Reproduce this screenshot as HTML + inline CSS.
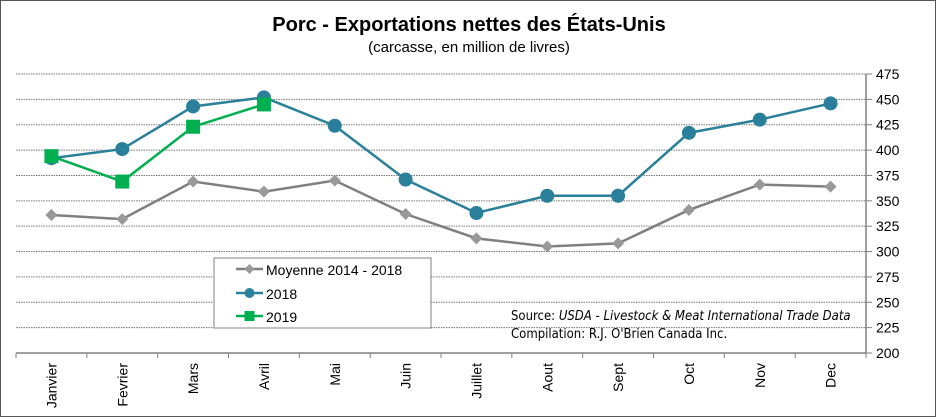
<!DOCTYPE html>
<html><head><meta charset="utf-8"><style>
body{margin:0;background:#fff}
#c{position:relative;width:934px;height:415px;border:1px solid #555;background:#fff;font-family:"Liberation Sans",sans-serif}
</style></head><body>
<div id="c">
<svg id="s" width="934" height="415" style="position:absolute;left:0;top:0">
<text x="468" y="30" text-anchor="middle" font-size="20" font-weight="bold" fill="#000">Porc - Exportations nettes des États-Unis</text>
<text x="468" y="51" text-anchor="middle" font-size="15" fill="#000">(carcasse, en million de livres)</text>
<g id="grid"></g><g id="axes"></g><g id="series"></g>
<text x="510" y="319" font-size="13" fill="#000" font-family="'DejaVu Sans Condensed','Liberation Sans Narrow',sans-serif">Source: <tspan font-style="italic">USDA - Livestock &amp; Meat International Trade Data</tspan></text>
<text x="510" y="337" font-size="13" fill="#000" font-family="'DejaVu Sans Condensed','Liberation Sans Narrow',sans-serif">Compilation: R.J. O'Brien Canada Inc.</text>
<g>
<rect x="213" y="257" width="217" height="70" fill="#fff" stroke="#808080"/>
<line x1="235" y1="268" x2="262" y2="268" stroke="#808080" stroke-width="2.5"/><path d="M248.5 263l5 5-5 5-5-5z" fill="#999"/>
<text x="265" y="274" font-size="14">Moyenne 2014 - 2018</text>
<line x1="235" y1="292" x2="262" y2="292" stroke="#2a7f9a" stroke-width="2.5"/><circle cx="248.5" cy="292" r="5" fill="#2a7f9a"/>
<text x="265" y="298" font-size="14">2018</text>
<line x1="235" y1="315" x2="262" y2="315" stroke="#00b050" stroke-width="2.5"/><rect x="243.5" y="310" width="10" height="10" fill="#00b050"/>
<text x="265" y="321" font-size="14">2019</text>
</g>
</svg>
</div>
<script>
const categories=["Janvier","Fevrier","Mars","Avril","Mai","Juin","Juillet","Aout","Sept","Oct","Nov","Dec"];
const moyenne=[336,332,369,359,370,337,313,305,308,341,366,364];
const y2018=[392,401,443,452,424,371,338,355,355,417,430,446];
const y2019=[394,369,423,445];
const yTicks=[200,225,250,275,300,325,350,375,400,425,450,475];
const L=15,R=865,T=73,B=352,ymin=200,ymax=475;
const NS="http://www.w3.org/2000/svg";
const xs=i=>L+(R-L)/categories.length*(i+0.5);
const ys=v=>B-(v-ymin)/(ymax-ymin)*(B-T);
function mk(tag,at,par){const e=document.createElementNS(NS,tag);for(const k in at)e.setAttribute(k,at[k]);document.getElementById(par).appendChild(e);return e;}
yTicks.forEach(v=>{
 if(v>ymin){const g=mk('line',{x1:L,x2:R,y1:ys(v),y2:ys(v),stroke:'#777','stroke-dasharray':'1.5 1','stroke-width':1},'grid');
 
 }
 mk('line',{x1:R,x2:R+6,y1:ys(v),y2:ys(v),stroke:'#808080'},'axes');
 const t=mk('text',{x:R+10,y:ys(v)+5,'font-size':14,fill:'#000'},'axes');t.textContent=v;
 
 
});
mk('line',{x1:R,x2:R,y1:T,y2:B,stroke:'#808080','stroke-width':1.5},'axes');
mk('line',{x1:L,x2:R,y1:B,y2:B,stroke:'#808080','stroke-width':1.5},'axes');
for(let i=0;i<=categories.length;i++){const x=L+(R-L)/categories.length*i;mk('line',{x1:x,x2:x,y1:B,y2:B+5,stroke:'#808080'},'axes');}
categories.forEach((c,i)=>{const x=xs(i)+5;const t=mk('text',{x:x,y:B+10,'font-size':14,'text-anchor':'end',transform:`rotate(-90 ${x} ${B+10})`},'axes');t.textContent=c;
 
 });
function series(data,color,shape,name){
 const p=mk('polyline',{points:data.map((v,i)=>xs(i)+','+ys(v)).join(' '),fill:'none',stroke:color,'stroke-width':2.5},'series');
 
 
 data.forEach((v,i)=>{const x=xs(i),y=ys(v);let m;
  if(shape==='c')m=mk('circle',{cx:x,cy:y,r:7,fill:color},'series');
  else if(shape==='s')m=mk('rect',{x:x-7,y:y-7,width:14,height:14,fill:color},'series');
  else m=mk('path',{d:`M${x} ${y-6}l6 6-6 6-6-6z`,fill:'#999'},'series');
  
  });
}
series(moyenne,'#808080','d','moyenne');
series(y2018,'#2a7f9a','c','series-2018');
series(y2019,'#00b050','s','series-2019');
</script>
</body></html>
